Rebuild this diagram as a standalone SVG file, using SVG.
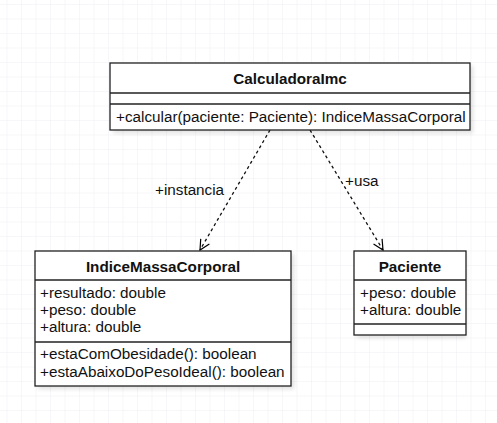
<svg xmlns="http://www.w3.org/2000/svg" width="497" height="423" viewBox="0 0 497 423">
<defs>
<pattern id="grid" x="6.5" y="4" width="14.5" height="14.5" patternUnits="userSpaceOnUse">
<path d="M0 0 V14.5 M0 0 H14.5" fill="none" stroke="#efedf3" stroke-width="1"/>
</pattern>
<filter id="sh" x="-10%" y="-10%" width="130%" height="140%">
<feGaussianBlur stdDeviation="2"/>
</filter>
<marker id="open" markerWidth="14" markerHeight="14" refX="11" refY="6" orient="auto" markerUnits="userSpaceOnUse">
<path d="M1 1 L11 6 L1 11" fill="none" stroke="#000" stroke-width="1.2"/>
</marker>
</defs>
<style>
.box{fill:#fff;stroke:#222;stroke-width:1.3}
.sep{stroke:#222;stroke-width:1.3}
.shadow{fill:#000;opacity:0.12;filter:url(#sh)}
text{font-family:"Liberation Sans",Arial,sans-serif;font-size:15.25px;fill:#111}
.title{font-weight:bold;text-anchor:middle}
.edge{fill:none;stroke:#111;stroke-width:1.3;stroke-dasharray:3 3;marker-end:url(#open)}
</style>
<rect width="497" height="423" fill="#fff"/>
<rect width="497" height="423" fill="url(#grid)"/>

<g id="connectors">
<path class="edge" d="M270 130 L200 250"/>
<path class="edge" d="M310 130 L383 250"/>
<text x="155" y="195">+instancia</text>
<text x="345" y="186">+usa</text>
</g>

<g id="CalculadoraImc">
<rect class="shadow" x="113" y="66" width="360" height="67"/>
<rect class="box" x="110" y="63" width="360" height="67"/>
<line class="sep" x1="110" y1="93" x2="470" y2="93"/>
<line class="sep" x1="110" y1="104" x2="470" y2="104"/>
<text class="title" x="290" y="84">CalculadoraImc</text>
<text x="116" y="122">+calcular(paciente: Paciente): IndiceMassaCorporal</text>
</g>

<g id="IndiceMassaCorporal">
<rect class="shadow" x="38" y="254" width="256" height="135"/>
<rect class="box" x="35" y="251" width="256" height="135"/>
<line class="sep" x1="35" y1="280" x2="291" y2="280"/>
<line class="sep" x1="35" y1="342" x2="291" y2="342"/>
<text class="title" x="163" y="272">IndiceMassaCorporal</text>
<text x="40" y="298">+resultado: double</text>
<text x="40" y="315">+peso: double</text>
<text x="40" y="332">+altura: double</text>
<text x="40" y="359">+estaComObesidade(): boolean</text>
<text x="40" y="377">+estaAbaixoDoPesoIdeal(): boolean</text>
</g>

<g id="Paciente">
<rect class="shadow" x="357" y="254" width="109" height="84"/>
<rect class="box" x="354" y="251" width="112" height="84"/>
<line class="sep" x1="354" y1="280" x2="466" y2="280"/>
<line class="sep" x1="354" y1="324" x2="466" y2="324"/>
<text class="title" x="410" y="272">Paciente</text>
<text x="360" y="298">+peso: double</text>
<text x="360" y="315">+altura: double</text>
</g>
</svg>
